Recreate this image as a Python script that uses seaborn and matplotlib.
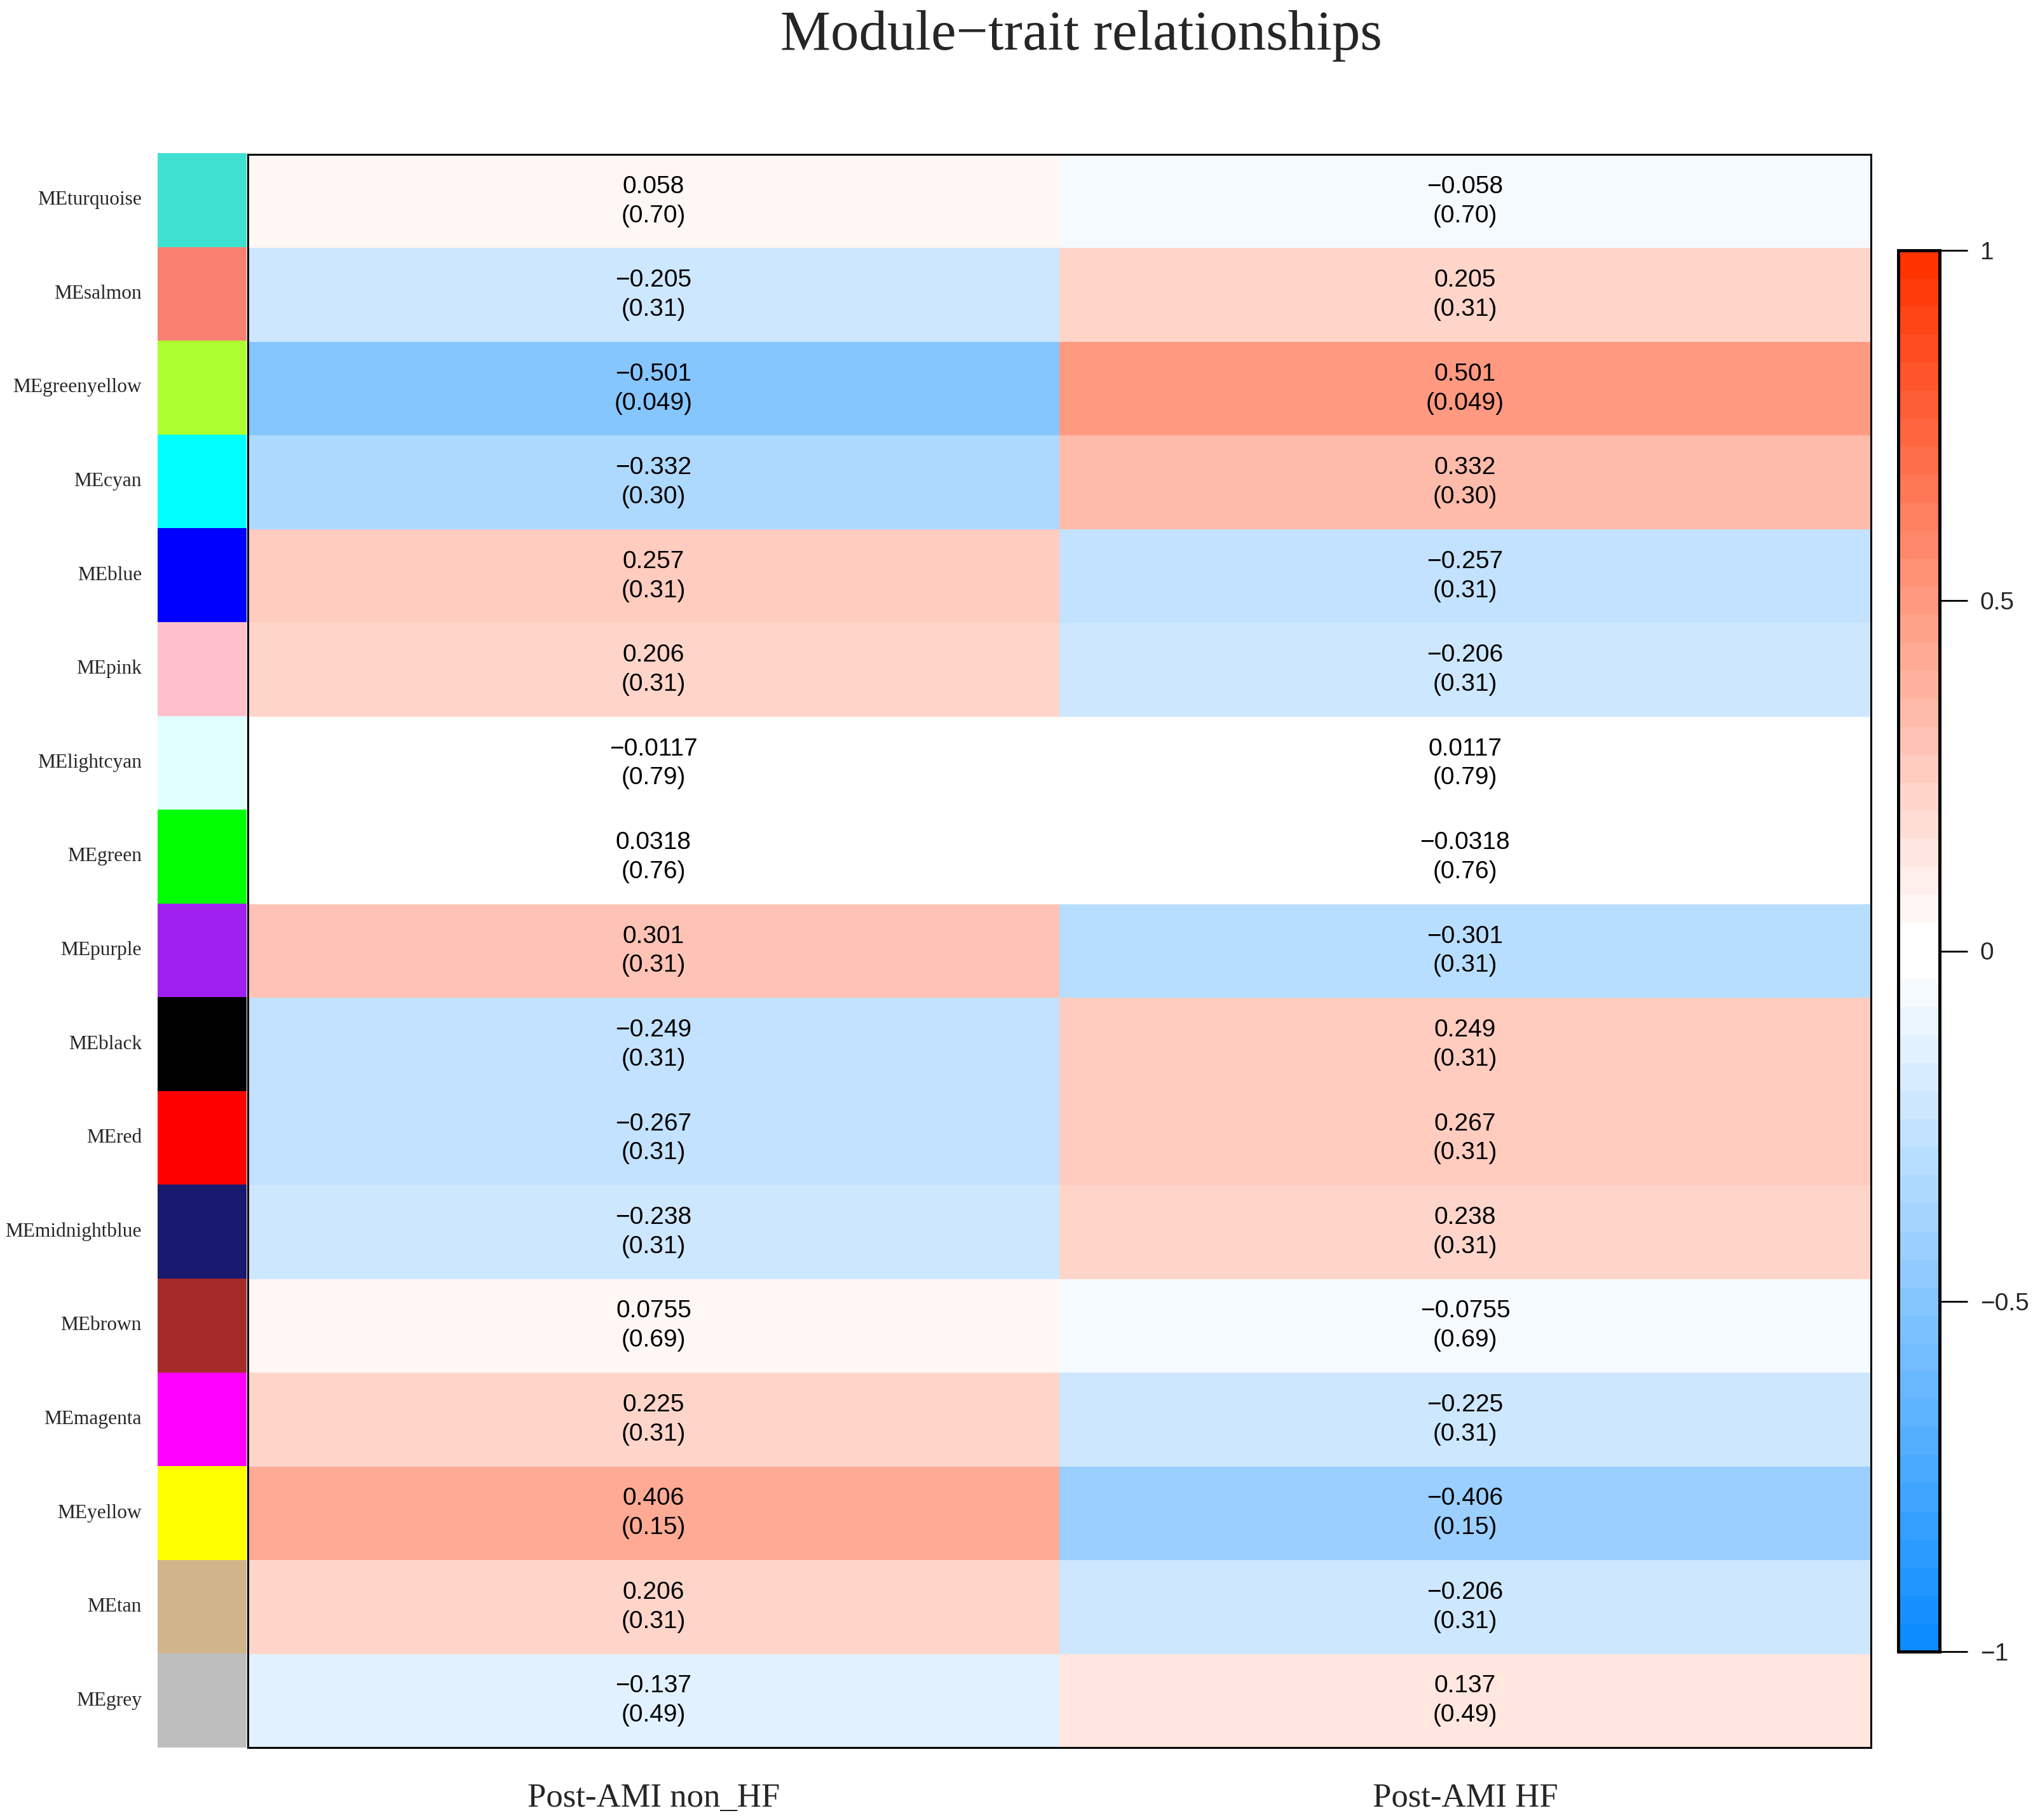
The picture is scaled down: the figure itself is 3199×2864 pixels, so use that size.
import numpy as np
import pandas as pd
import matplotlib
matplotlib.use('Agg')
from matplotlib import pyplot as plt
from matplotlib.colors import ListedColormap
import seaborn as sns

sns.set_style('white')
plt.rcParams['font.family'] = ['Liberation Sans', 'DejaVu Sans']

# module eigengenes (rows) and their colours (R colour names -> hex)
modules = ['MEturquoise', 'MEsalmon', 'MEgreenyellow', 'MEcyan', 'MEblue', 'MEpink',
           'MElightcyan', 'MEgreen', 'MEpurple', 'MEblack', 'MEred', 'MEmidnightblue',
           'MEbrown', 'MEmagenta', 'MEyellow', 'MEtan', 'MEgrey']
module_hex = ['#40E0D0', '#FA8072', '#ADFF2F', '#00FFFF', '#0000FF', '#FFC0CB',
              '#E0FFFF', '#00FF00', '#A020F0', '#000000', '#FF0000', '#191970',
              '#A52A2A', '#FF00FF', '#FFFF00', '#D2B48C', '#BEBEBE']
traits = ['Post-AMI non_HF', 'Post-AMI HF']

cor_nonhf = [0.058, -0.205, -0.501, -0.332, 0.257, 0.206, -0.0117, 0.0318, 0.301,
             -0.249, -0.267, -0.238, 0.0755, 0.225, 0.406, 0.206, -0.137]
cor_hf = [-0.058, 0.205, 0.501, 0.332, -0.257, -0.206, 0.0117, -0.0318, -0.301,
          0.249, 0.267, 0.238, -0.0755, -0.225, -0.406, -0.206, 0.137]
pvals = ['0.70', '0.31', '0.049', '0.30', '0.31', '0.31', '0.79', '0.76', '0.31',
         '0.31', '0.31', '0.31', '0.69', '0.31', '0.15', '0.31', '0.49']

df = pd.DataFrame({traits[0]: cor_nonhf, traits[1]: cor_hf}, index=modules)
annot = np.array([[str(v).replace('-', '\u2212') + '\n(' + p + ')' for v in row]
                  for row, p in zip(df.values, pvals)])

# blueWhiteRed(50) like WGCNA
blue_end = np.array([0.05, 0.55, 1.0])
red_end = np.array([1.0, 0.2, 0.0])
white = np.ones(3)
half = 25
blues = [white + (blue_end - white) * (half - 1 - i) / (half - 1) for i in range(half)]
reds = [white + (red_end - white) * i / (half - 1) for i in range(half)]
cmap = ListedColormap(blues + reds)

W, H = 3199, 2864
fig = plt.figure(figsize=(W / 200, H / 200), dpi=200)
ax = fig.add_axes([390 / W, 1 - 2750 / H, (2944 - 390) / W, (2750 - 243) / H])
sax = fig.add_axes([248 / W, 1 - 2750 / H, 140 / W, (2750 - 241) / H])
cax = fig.add_axes([2987 / W, 1 - 2599 / H, 65 / W, (2599 - 394) / H])

sns.heatmap(df, ax=ax, cmap=cmap, vmin=-1, vmax=1, annot=annot, fmt='',
            annot_kws={'fontsize': 14, 'color': 'black', 'linespacing': 1.35},
            xticklabels=traits, yticklabels=False, cbar_ax=cax)
for s in ax.spines.values():
    s.set_visible(True)
    s.set_linewidth(1.1)
    s.set_color('black')
ax.tick_params(axis='x', length=0, pad=20, labelsize=19)
ax.set_xticklabels(traits, rotation=0, family='Liberation Serif')
ax.set_xlabel('')
ax.set_ylabel('')

# module colour strip
sns.heatmap(np.arange(len(modules)).reshape(-1, 1), ax=sax, cmap=ListedColormap(module_hex),
            cbar=False, xticklabels=False, yticklabels=modules)
sax.tick_params(axis='y', length=0, pad=9)
sax.set_yticklabels(modules, rotation=0, fontsize=11.3, family='Liberation Serif')

# colour bar
cbar = ax.collections[0].colorbar
cbar.set_ticks([-1, -0.5, 0, 0.5, 1])
cbar.set_ticklabels(['\u22121', '\u22120.5', '0', '0.5', '1'])
cax.tick_params(length=16, width=1, labelsize=14, pad=7, color='black')
cbar.outline.set_visible(True)
cbar.outline.set_linewidth(1.8)
cbar.outline.set_edgecolor('black')

fig.text(0.532, 1 - 78 / H, 'Module\u2212trait relationships', ha='center', va='baseline',
         fontsize=32, family='Liberation Serif')

fig.savefig('out.png', dpi=200)
